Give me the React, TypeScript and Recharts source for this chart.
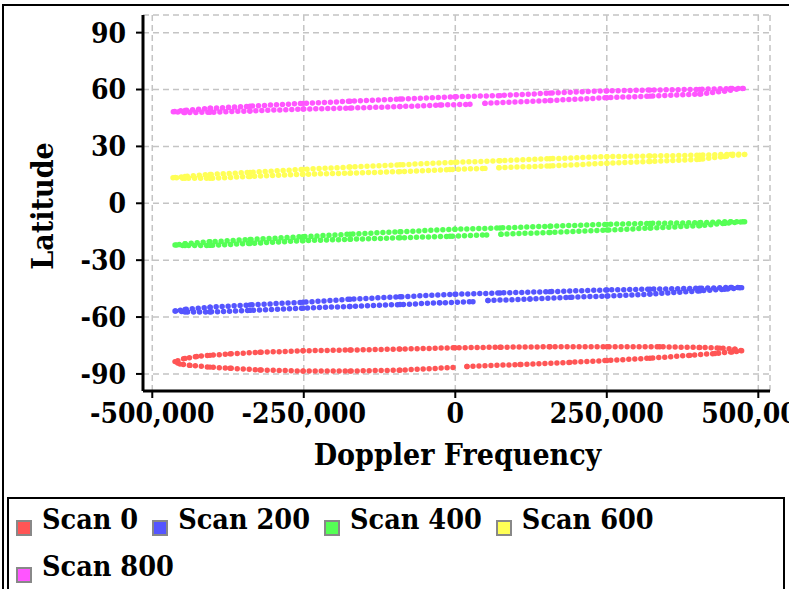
import React from 'react'
import { ScatterChart, Scatter, XAxis, YAxis, CartesianGrid, Legend } from 'recharts'

const FONT = "'DejaVu Serif Condensed', 'DejaVu Serif', serif"

const xTicks = [-500000, -250000, 0, 250000, 500000]
const yTicks = [-90, -60, -30, 0, 30, 60, 90]

const scanNames = ['Scan 0', 'Scan 200', 'Scan 400', 'Scan 600', 'Scan 800']
const scanColors = ['#ff5555', '#5555ff', '#55ff55', '#ffff55', '#ff55ff']

// [doppler frequency, latitude], traced around each ellipse starting after the gap
const scan0: [number, number][] = [
  [19300, -86.1], [106750, -85.0], [189250, -83.9], [250300, -82.9], [321250, -81.7], [387250, -80.2],
  [428500, -79.2], [456550, -78.4], [472560, -77.8],
  [461000, -76.9], [436250, -76.4], [403250, -76.0], [337250, -75.7], [250300, -75.6], [156250, -75.7],
  [73750, -75.9], [-500, -76.2], [-91250, -76.9], [-173750, -77.4], [-251300, -77.8], [-322250, -78.6],
  [-371750, -79.4], [-404750, -80.2], [-426700, -80.8], [-446000, -81.8], [-462500, -83.5],
  [-454250, -84.8], [-437750, -85.5], [-404750, -86.4], [-371750, -87.0], [-322250, -87.9],
  [-251300, -88.5], [-173750, -88.5], [-91250, -88.0], [-3800, -86.6],
]

const scan200: [number, number][] = [
  [53950, -51.3], [123250, -50.5], [189250, -49.6], [250300, -48.9], [321250, -47.9], [403250, -46.2],
  [444500, -45.3], [472560, -44.5],
  [454250, -44.4], [403250, -44.8], [321250, -45.3], [250300, -45.7], [156250, -46.6], [73750, -47.3],
  [-500, -48.0], [-91250, -49.3], [-173750, -50.6], [-251300, -52.2], [-338750, -53.6], [-404750, -54.8],
  [-446000, -56.0], [-462500, -56.8],
  [-446000, -57.3], [-404750, -57.3], [-338750, -56.5], [-251300, -55.3], [-173750, -54.4],
  [-91250, -53.4], [-25250, -52.5], [29200, -51.9],
]

const scan400: [number, number][] = [
  [75400, -16.3], [156250, -15.4], [250300, -14.1], [321250, -13.1], [403250, -11.8], [444500, -10.6],
  [477500, -9.7],
  [454250, -9.7], [403250, -10.2], [321250, -10.6], [250300, -11.1], [156250, -12.1], [73750, -13.0],
  [-500, -13.7], [-91250, -15.0], [-173750, -16.3], [-251300, -17.6], [-338750, -19.1], [-404750, -20.3],
  [-446000, -21.3], [-462500, -22.0],
  [-446000, -22.3], [-404750, -22.2], [-338750, -21.2], [-251300, -19.7], [-173750, -19.0],
  [-91250, -18.2], [-8750, -17.4], [51800, -16.7],
]

const scan600: [number, number][] = [
  [72100, 18.8], [156250, 19.7], [250300, 21.1], [321250, 22.0], [403250, 23.2], [444500, 24.7],
  [477500, 25.8],
  [454250, 25.8], [403250, 25.4], [321250, 24.9], [250300, 24.6], [156250, 23.5], [73750, 22.4],
  [-500, 21.6], [-91250, 20.3], [-173750, 19.1], [-251300, 17.9], [-338750, 16.3], [-404750, 15.2],
  [-446000, 14.1], [-465800, 13.5],
  [-446000, 13.2], [-404750, 13.2], [-338750, 14.1], [-251300, 15.3], [-173750, 15.9],
  [-91250, 16.7], [-8750, 17.8], [49000, 18.4],
]

const scan800: [number, number][] = [
  [49000, 52.7], [156250, 54.2], [250300, 55.7], [321250, 56.5], [403250, 57.6], [444500, 59.2],
  [475200, 60.6],
  [454250, 60.5], [403250, 60.1], [321250, 59.7], [250300, 59.3], [156250, 58.1], [73750, 56.8],
  [-500, 56.2], [-91250, 55.0], [-173750, 53.8], [-251300, 52.7], [-338750, 51.2], [-404750, 50.1],
  [-446000, 49.0], [-465300, 48.3],
  [-446000, 47.9], [-404750, 48.0], [-338750, 48.7], [-251300, 49.7], [-173750, 50.2],
  [-91250, 51.0], [-25250, 51.8], [24250, 52.2],
]

const series = [scan0, scan200, scan400, scan600, scan800].map((arr) =>
  arr.map(([f, lat]) => ({ f, lat }))
)

const tickStyle = { fill: '#000', fontSize: 28, fontWeight: 700, fontFamily: FONT }

function XTitle(props: any) {
  const vb = props.viewBox ?? { x: 143, y: 391, width: 627, height: 106 }
  return (
    <text x={vb.x + vb.width / 2 + 1} y={vb.y + 74} textAnchor="middle"
      fontFamily={FONT} fontWeight={700} fontSize={30} fill="#000">
      Doppler Frequency
    </text>
  )
}

function YTitle(props: any) {
  const vb = props.viewBox ?? { x: 0, y: 15, width: 143, height: 376 }
  const x = vb.x + 53
  const y = vb.y + vb.height / 2 + 3
  return (
    <text x={x} y={y} transform={`rotate(-90 ${x} ${y})`} textAnchor="middle"
      fontFamily={FONT} fontWeight={700} fontSize={30} fill="#000">
      Latitude
    </text>
  )
}

function ScanLegend(props: any) {
  const items = props.payload ?? []
  return (
    <div style={{
      display: 'flex', flexWrap: 'wrap', rowGap: 7, paddingLeft: 7,
      fontFamily: FONT, fontWeight: 700, fontSize: 28.5, lineHeight: '40px', color: '#000',
    }}>
      {items.map((it: any) => (
        <div key={it.value} style={{ marginRight: 14, whiteSpace: 'nowrap' }}>
          <span style={{
            display: 'inline-block', width: 12, height: 12, border: '2px solid #888',
            background: it.color, position: 'relative', top: 7, marginRight: 10,
          }} />
          {it.value}
        </div>
      ))}
    </div>
  )
}

export default function App() {
  return (
    <div style={{ position: 'absolute', left: 0, top: 0, width: 789, height: 589, overflow: 'hidden', background: '#fff' }}>
      <div style={{ position: 'absolute', left: 2, top: 4, width: 900, height: 700, border: '2px solid #000' }} />
      <div style={{ position: 'absolute', left: 0, top: 0 }}>
        <ScatterChart width={830} height={620} margin={{ top: 15, right: 60, bottom: 13, left: 0 }}>
          <CartesianGrid strokeDasharray="6 4" stroke="#c4c4c4" strokeWidth={1.5} />
          <XAxis dataKey="f" type="number" domain={[-515300, 519300]} allowDataOverflow ticks={xTicks}
            interval={0} tickFormatter={(v: number) => v.toLocaleString('en-US')} height={106}
            tickSize={7} tickMargin={5} axisLine={{ stroke: '#000', strokeWidth: 3 }}
            tickLine={{ stroke: '#000', strokeWidth: 2 }} tick={tickStyle} label={<XTitle />} />
          <YAxis dataKey="lat" type="number" domain={[-99, 99.3]} allowDataOverflow ticks={yTicks}
            interval={0} width={143} tickSize={7} tickMargin={10}
            axisLine={{ stroke: '#000', strokeWidth: 3 }} tickLine={{ stroke: '#000', strokeWidth: 2 }}
            tick={tickStyle} label={<YTitle />} />
          <Legend layout="horizontal" verticalAlign="bottom" align="left" content={<ScanLegend />}
            wrapperStyle={{ left: 7, top: 497, width: 778, height: 110, border: '2px solid #000', boxSizing: 'border-box' }} />
          {series.map((data, i) => (
            <Scatter key={scanNames[i]} name={scanNames[i]} data={data} fill={scanColors[i]}
              line={{ stroke: scanColors[i], strokeWidth: 5.5, strokeDasharray: '0 6', strokeLinecap: 'round' }}
              lineType="joint"
              shape={(p: any) => <circle cx={p.cx} cy={p.cy} r={2.7} fill={scanColors[i]} />}
              isAnimationActive={false} />
          ))}
        </ScatterChart>
      </div>
    </div>
  )
}
